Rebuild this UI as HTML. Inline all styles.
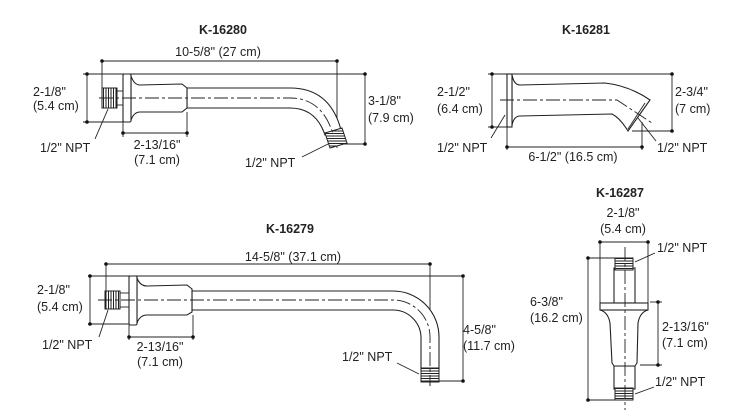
<!DOCTYPE html>
<html><head><meta charset="utf-8"><style>
html,body{margin:0;padding:0;background:#fff;}
svg{display:block;}
text{font-family:"Liberation Sans",sans-serif;font-size:12.5px;fill:#222;}
.t{font-weight:bold;font-size:12.5px;}
.l{stroke:#222;stroke-width:0.9;fill:none;}
.b{stroke:#222;stroke-width:1.1;fill:#fff;}
.c{stroke:#222;stroke-width:0.9;fill:none;stroke-dasharray:14 3 3 3;}
</style></head><body>
<svg width="738" height="413" viewBox="0 0 738 413" xmlns="http://www.w3.org/2000/svg">
<defs>
<pattern id="thv" width="2.5" height="4" patternUnits="userSpaceOnUse"><rect width="2.5" height="4" fill="#fff"/><line x1="1" y1="0" x2="1" y2="4" stroke="#222" stroke-width="1"/></pattern>
<pattern id="thh" width="4" height="2.5" patternUnits="userSpaceOnUse"><rect width="4" height="2.5" fill="#fff"/><line x1="0" y1="1" x2="4" y2="1" stroke="#222" stroke-width="1"/></pattern>
</defs>

<!-- ================= K-16280 ================= -->
<text class="t" x="223" y="34" text-anchor="middle">K-16280</text>
<text x="218" y="56" text-anchor="middle">10-5/8" (27 cm)</text>
<line class="l" x1="102" y1="61" x2="337" y2="61"/>
<line class="l" x1="102" y1="61" x2="102" y2="88"/>
<line class="l" x1="337" y1="61" x2="337" y2="148"/>
<line class="l" x1="83" y1="74" x2="365" y2="74"/>
<line class="l" x1="87" y1="74" x2="87" y2="122"/>
<line class="l" x1="83" y1="122" x2="123" y2="122"/>
<line class="l" x1="365" y1="74" x2="365" y2="144"/>
<line class="l" x1="342" y1="144" x2="365" y2="144"/>
<g fill="#111"><circle cx="102" cy="61" r="1.8"/><circle cx="337" cy="61" r="1.8"/><circle cx="87" cy="74" r="1.8"/><circle cx="87" cy="122" r="1.8"/><circle cx="365" cy="74" r="1.8"/><circle cx="365" cy="144" r="1.8"/></g>
<text x="33" y="96">2-1/8"</text><text x="33" y="110">(5.4 cm)</text>
<text x="368" y="105">3-1/8"</text><text x="368" y="122">(7.9 cm)</text>
<!-- pipe -->
<path class="b" d="M187,88 L290,88 Q330,88 341,130 L325,135 Q316,108 290,108 L187,108 Z"/>
<path class="b" d="M131,76 Q134,85 140,85 L182,84 L187,88 L187,108 L182,112 L140,112 Q134,112 131,120 Z"/>
<rect class="b" x="123" y="74" width="8" height="48" rx="1.5"/>
<rect x="102" y="88" width="15" height="20" fill="url(#thv)" stroke="#222" stroke-width="1"/>
<line class="l" x1="117" y1="91" x2="123" y2="91"/><line class="l" x1="117" y1="105" x2="123" y2="105"/>
<path d="M325,133 L342,128 L347,143 L330,148 Z" fill="url(#thh)" stroke="#222" stroke-width="1" transform="rotate(0)"/>
<path class="c" d="M99,98 L290,98 Q322,98 333,134"/>
<line class="l" x1="123" y1="122" x2="123" y2="137"/>
<line class="l" x1="187" y1="112" x2="187" y2="137"/>
<line class="l" x1="123" y1="133" x2="187" y2="133"/>
<g fill="#111"><circle cx="123" cy="133" r="1.8"/><circle cx="187" cy="133" r="1.8"/></g>
<text x="157" y="149" text-anchor="middle">2-13/16"</text><text x="157" y="164" text-anchor="middle">(7.1 cm)</text>
<text x="40" y="152">1/2" NPT</text>
<line class="l" x1="95" y1="139" x2="108" y2="109"/>
<text x="245" y="167">1/2" NPT</text>
<line class="l" x1="302" y1="157" x2="328" y2="144"/>

<!-- ================= K-16281 ================= -->
<text class="t" x="586" y="34" text-anchor="middle">K-16281</text>
<line class="l" x1="488" y1="74" x2="672" y2="74"/>
<line class="l" x1="492" y1="74" x2="492" y2="127"/>
<line class="l" x1="488" y1="127" x2="512" y2="127"/>
<line class="l" x1="672" y1="74" x2="672" y2="131"/>
<line class="l" x1="632" y1="131" x2="672" y2="131"/>
<g fill="#111"><circle cx="492" cy="74" r="1.8"/><circle cx="492" cy="127" r="1.8"/><circle cx="672" cy="74" r="1.8"/><circle cx="672" cy="131" r="1.8"/></g>
<path class="b" d="M512,75 Q514,85 520,85 L605,83 Q630,86 650,100 L628,131 Q620,118 612,114 L520,116 Q514,116 512,125 Z"/>
<rect class="b" x="507" y="74" width="5" height="53"/>
<line class="l" x1="645" y1="103" x2="628" y2="129"/>
<path class="c" d="M500,100 L617,100 L652,123"/>
<line class="l" x1="507" y1="127" x2="507" y2="150"/>
<line class="l" x1="642" y1="122" x2="642" y2="150"/>
<line class="l" x1="507" y1="147" x2="642" y2="147"/>
<g fill="#111"><circle cx="507" cy="147" r="1.8"/><circle cx="642" cy="147" r="1.8"/></g>
<text x="573" y="161" text-anchor="middle">6-1/2" (16.5 cm)</text>
<text x="437" y="96">2-1/2"</text><text x="437" y="113">(6.4 cm)</text>
<text x="675" y="96">2-3/4"</text><text x="675" y="113">(7 cm)</text>
<text x="437" y="152">1/2" NPT</text>
<line class="l" x1="491" y1="138" x2="505" y2="115"/>
<text x="657" y="152">1/2" NPT</text>
<line class="l" x1="656" y1="141" x2="638" y2="118"/>

<!-- ================= K-16279 ================= -->
<text class="t" x="290" y="233" text-anchor="middle">K-16279</text>
<text x="293" y="261" text-anchor="middle">14-5/8" (37.1 cm)</text>
<line class="l" x1="106" y1="264" x2="430" y2="264"/>
<line class="l" x1="106" y1="264" x2="106" y2="293"/>
<line class="l" x1="430" y1="264" x2="430" y2="386"/>
<line class="l" x1="88" y1="276" x2="463" y2="276"/>
<line class="l" x1="90" y1="276" x2="90" y2="324"/>
<line class="l" x1="88" y1="324" x2="130" y2="324"/>
<line class="l" x1="463" y1="276" x2="463" y2="381"/>
<line class="l" x1="423" y1="381" x2="463" y2="381"/>
<g fill="#111"><circle cx="106" cy="264" r="1.8"/><circle cx="430" cy="264" r="1.8"/><circle cx="90" cy="276" r="1.8"/><circle cx="90" cy="324" r="1.8"/><circle cx="463" cy="276" r="1.8"/><circle cx="463" cy="381" r="1.8"/></g>
<path class="b" d="M192,291 L393,291 A46,46 0 0 1 439,337 L439,369 L421,369 L421,337 A28,28 0 0 0 393,310 L192,310 Z"/>
<path class="b" d="M137,278 Q140,286 147,286 L187,285 L192,289 L192,312 L187,315 L147,315 Q140,315 137,323 Z"/>
<rect class="b" x="129" y="276" width="8" height="49" rx="1.5"/>
<rect x="105" y="291" width="15" height="18" fill="url(#thv)" stroke="#222" stroke-width="1"/>
<line class="l" x1="120" y1="293" x2="129" y2="293"/><line class="l" x1="120" y1="307" x2="129" y2="307"/>
<rect x="421" y="368" width="18" height="14" fill="url(#thh)" stroke="#222" stroke-width="1"/>
<path class="c" d="M98,300 L393,300 A37,37 0 0 1 430,337 L430,386"/>
<line class="l" x1="129" y1="325" x2="129" y2="340"/>
<line class="l" x1="193" y1="315" x2="193" y2="340"/>
<line class="l" x1="129" y1="337" x2="193" y2="337"/>
<g fill="#111"><circle cx="129" cy="337" r="1.8"/><circle cx="193" cy="337" r="1.8"/></g>
<text x="160" y="351" text-anchor="middle">2-13/16"</text><text x="160" y="366" text-anchor="middle">(7.1 cm)</text>
<text x="37" y="294">2-1/8"</text><text x="37" y="311">(5.4 cm)</text>
<text x="463" y="334">4-5/8"</text><text x="463" y="350">(11.7 cm)</text>
<text x="42" y="349">1/2" NPT</text>
<line class="l" x1="99" y1="337" x2="108" y2="310"/>
<text x="342" y="361">1/2" NPT</text>
<line class="l" x1="397" y1="363" x2="419" y2="374"/>

<!-- ================= K-16287 ================= -->
<text class="t" x="620" y="197" text-anchor="middle">K-16287</text>
<text x="623" y="217" text-anchor="middle">2-1/8"</text><text x="623" y="233" text-anchor="middle">(5.4 cm)</text>
<line class="l" x1="600" y1="242" x2="648" y2="242"/>
<line class="l" x1="600" y1="242" x2="600" y2="303"/>
<line class="l" x1="648" y1="242" x2="648" y2="303"/>
<g fill="#111"><circle cx="600" cy="242" r="1.8"/><circle cx="648" cy="242" r="1.8"/></g>
<line class="l" x1="588" y1="258" x2="615" y2="258"/>
<line class="l" x1="588" y1="400" x2="615" y2="400"/>
<line class="l" x1="588" y1="258" x2="588" y2="400"/>
<g fill="#111"><circle cx="588" cy="258" r="1.8"/><circle cx="588" cy="400" r="1.8"/></g>
<rect class="b" x="614" y="268" width="21" height="35"/>
<rect class="b" x="614" y="366" width="21" height="23"/>
<path class="b" d="M600,310 Q608,312 610,323 L612,363 L614,366 L635,366 L637,363 L638,323 Q640,312 648,310 Z"/>
<rect class="b" x="600" y="303" width="48" height="7"/>
<rect x="615" y="258" width="18" height="12" fill="url(#thh)" stroke="#222" stroke-width="1"/>
<rect x="615" y="388" width="18" height="12" fill="url(#thh)" stroke="#222" stroke-width="1"/>
<line class="c" x1="625" y1="247" x2="625" y2="410" stroke-dasharray="14 3 3 3"/>
<line class="l" x1="650" y1="302" x2="662" y2="302"/>
<line class="l" x1="640" y1="365" x2="662" y2="365"/>
<line class="l" x1="658" y1="302" x2="658" y2="365"/>
<g fill="#111"><circle cx="658" cy="302" r="1.8"/><circle cx="658" cy="365" r="1.8"/></g>
<text x="530" y="306">6-3/8"</text><text x="530" y="322">(16.2 cm)</text>
<text x="662" y="331">2-13/16"</text><text x="662" y="347">(7.1 cm)</text>
<text x="657" y="252">1/2" NPT</text>
<line class="l" x1="655" y1="253" x2="635" y2="262"/>
<text x="655" y="386">1/2" NPT</text>
<line class="l" x1="654" y1="387" x2="635" y2="394"/>
</svg>
</body></html>
